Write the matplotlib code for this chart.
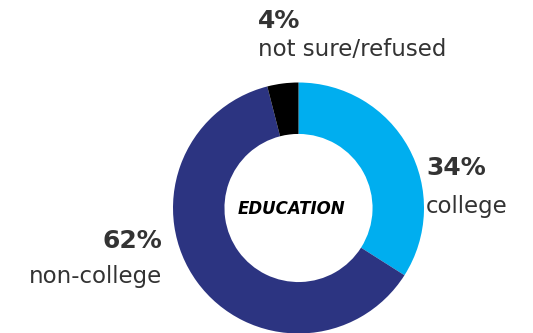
import matplotlib.pyplot as plt

# Education breakdown (share of respondents)
categories = ["college", "non-college", "not sure/refused"]
shares = [34, 62, 4]
colors = ["#00AEEF", "#2C3481", "#000000"]

fig = plt.figure(figsize=(5.33, 3.33), dpi=100)
ax = fig.add_axes([0, 0, 1, 1])

cx, cy, r = 298.5, 125, 125.5
ax.pie(shares, colors=colors, startangle=90, counterclock=False,
       center=(cx, cy), radius=r, frame=True,
       wedgeprops=dict(width=r * 0.41, linewidth=0))
ax.set_xlim(0, 533)
ax.set_ylim(0, 333)
ax.set_aspect("equal")
ax.axis("off")

ax.text(cx - 7, cy - 1, "EDUCATION", ha="center", va="center",
        fontsize=12, fontweight="bold", fontstyle="italic", color="black")

txt = "#333333"
# label anchors: (x, y of percentage baseline, y of name baseline, alignment)
label_pos = {
    "college": (426, 333 - 175, 333 - 213, "left"),
    "non-college": (162, 333 - 248, 333 - 283, "right"),
    "not sure/refused": (258, 333 - 28, 333 - 56, "left"),
}
for name, val in zip(categories, shares):
    x, yp, yn, ha = label_pos[name]
    ax.text(x, yp, f"{val}%", ha=ha, va="baseline", fontsize=18,
            fontweight="bold", color=txt)
    ax.text(x, yn, name, ha=ha, va="baseline", fontsize=16.5, color=txt)

fig.savefig("out.png", dpi=100)
